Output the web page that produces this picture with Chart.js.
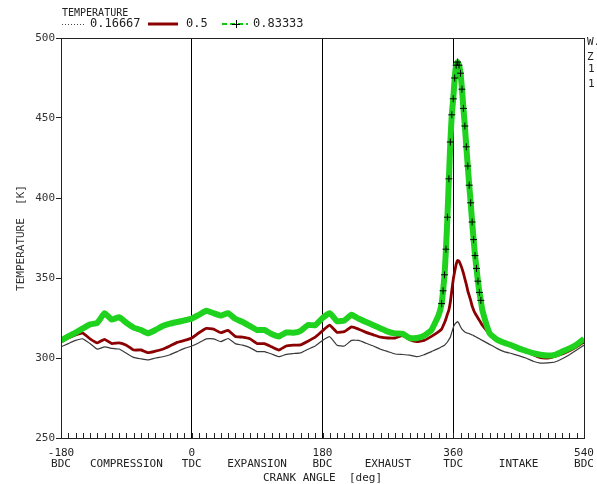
<!DOCTYPE html>
<html>
<head>
<meta charset="utf-8">
<script src="https://cdn.jsdelivr.net/npm/chart.js@4"></script>
<style>
  html, body { margin: 0; padding: 0; background: #fff; }
  #wrap { width: 597px; height: 484px; }
</style>
</head>
<body>
<div id="wrap"><canvas id="myChart" width="597" height="484"></canvas></div>
<script>
// crank angle [deg]
const angles = [
    -180, -170, -160, -150, -140, -130, -120, -110, -100, -90, -80, -70, -60, -50, -40, -30, -20, -10,
    0, 10, 20, 30, 40, 50, 60, 70, 80, 90, 100, 110, 120, 130, 140, 150, 160, 170,
    180, 190, 200, 210, 220, 230, 240, 250, 260, 270, 280, 290, 300, 310, 320, 330, 340,
    344, 346, 348, 350, 352, 354, 356, 358, 360, 362, 364, 366, 368, 370, 372, 374, 376, 378, 380,
    382, 384, 386, 388, 390, 392, 394, 396, 398, 400,
    410, 420, 430, 440, 450, 460, 470, 480, 490, 500, 510, 520, 530, 540
];

// temperature [K] for each series
const temp016 = [
    307, 309, 311, 312, 309, 305.5, 307, 306, 305.6, 303, 300.4, 299.5, 298.8, 300, 300.8, 302, 304, 306,
    307.5, 309.5, 312, 312, 310.2, 312.2, 309, 308, 306.5, 304, 304, 302.5, 300.8, 302.3, 302.8, 303.2, 305.5, 307.5,
    311, 313.3, 308, 307.5, 311, 311, 309.2, 307.5, 305.5, 304, 302.5, 302.2, 301.8, 300.8, 302, 304, 306,
    307, 307.5, 308, 309, 310, 311.5, 313, 316, 319, 321, 322, 322.7, 321.5, 319.5, 318, 317, 316.3, 315.8, 315.5,
    315.2, 314.8, 314.4, 314, 313.5, 313, 312.5, 312, 311.5, 311,
    308.5, 306, 304, 302.8, 301.5, 300, 298, 296.8, 297, 297.5, 299.5, 302, 305, 308
];
const temp05 = [
    310, 312.5, 314.5, 315.5, 312, 309.5, 311.7, 309, 309.5, 308, 305, 305, 303.3, 304.3, 305.5, 307.5, 309.8, 311,
    312.5, 315.8, 318.5, 318, 315.8, 317.3, 313.5, 313, 312, 309, 309, 307, 305, 307.5, 308, 308.2, 310.5, 313,
    317, 320.5, 316, 316.5, 319.5, 318, 316, 314.5, 313, 312.5, 312.5, 314, 311.5, 310.2, 311, 313.5, 316.5,
    318, 320, 322, 324.5, 327.5, 330, 335, 342, 349, 354, 358.5, 361, 360.5, 358.5, 356, 353, 349.5, 346, 342,
    339, 336, 332.5, 330, 328, 326.5, 325, 323.5, 322, 320.5,
    315, 311, 309.3, 307.5, 306, 304.5, 302, 300.2, 300, 301, 302.5, 304.5, 307, 310
];
const temp083 = [
    311, 313.5, 315.8, 318.5, 321, 322, 328, 324, 325.5, 322, 319, 317.5, 315.4, 317.5, 320, 321.5, 322.5, 323.5,
    324.6, 327, 329.5, 328, 326.5, 328, 324.5, 322.5, 320, 317.5, 317.5, 315, 313.5, 316, 315.8, 317, 320.6, 320.5,
    325, 328, 323, 323.5, 327, 324.5, 322.5, 320.5, 318.5, 316.5, 315.4, 315.2, 312.5, 312.5, 314, 317.5, 327,
    334, 342, 352, 368, 388, 412, 435, 452, 462, 475, 483, 485, 483, 478, 468, 456, 445, 432, 420,
    408, 397, 385, 374, 364, 356, 348, 341, 336, 330,
    315.5, 311.5, 309.5, 308, 306, 304.5, 303, 302, 301.5, 302, 304, 306, 308.5, 312
];

const seriesLabels = ['0.16667', '0.5', '0.83333'];

// x tick labels: crank position and stroke name
const xTickValues = [-180, -90, 0, 90, 180, 270, 360, 450, 540];
const xTickLabels = [
    ['-180', 'BDC'], ['', 'COMPRESSION'], ['0', 'TDC'], ['', 'EXPANSION'], ['180', 'BDC'],
    ['', 'EXHAUST'], ['360', 'TDC'], ['', 'INTAKE'], ['540', 'BDC']
];

const FONT = "'DejaVu Sans Mono', monospace";
const toPoints = arr => arr.map((y, i) => ({ x: angles[i], y: y }));

const decor = {
    id: 'decor',
    afterDraw(chart) {
        const c = chart.ctx;
        const a = chart.chartArea;
        const xs = chart.scales.x;
        c.save();
        // frame
        c.strokeStyle = '#222';
        c.lineWidth = 1;
        c.strokeRect(a.left + 0.5, a.top + 0.5, a.right - a.left, a.bottom - a.top);
        // minor ticks along the bottom axis
        c.beginPath();
        for (let d = -170; d < 540; d += 10) {
            const px = Math.round(xs.getPixelForValue(d)) + 0.5;
            c.moveTo(px, a.bottom);
            c.lineTo(px, a.bottom - 5);
        }
        c.stroke();

        // legend
        c.fillStyle = '#222';
        c.textBaseline = 'middle';
        c.font = '10px ' + FONT;
        c.fillText('TEMPERATURE', 62, 13);
        c.font = '12px ' + FONT;
        const ly = 24;
        c.strokeStyle = '#444';
        c.setLineDash([1, 2]);
        c.beginPath(); c.moveTo(62, ly + 0.5); c.lineTo(86, ly + 0.5); c.stroke();
        c.setLineDash([]);
        c.fillText(seriesLabels[0], 90, ly);
        c.strokeStyle = '#8b0000';
        c.lineWidth = 3;
        c.beginPath(); c.moveTo(148, ly); c.lineTo(178, ly); c.stroke();
        c.fillText(seriesLabels[1], 186, ly);
        c.strokeStyle = '#10c810';
        c.lineWidth = 2;
        c.setLineDash([5, 3]);
        c.beginPath(); c.moveTo(222, ly); c.lineTo(248, ly); c.stroke();
        c.setLineDash([]);
        c.strokeStyle = '#000';
        c.lineWidth = 1;
        c.beginPath();
        c.moveTo(232, ly + 0.5); c.lineTo(240, ly + 0.5);
        c.moveTo(236.5, ly - 4); c.lineTo(236.5, ly + 4);
        c.stroke();
        c.fillText(seriesLabels[2], 253, ly);

        // clipped side annotation
        c.font = '11px ' + FONT;
        c.fillText('W.', 587, 42);
        c.fillText('Z', 587, 57);
        c.fillText('1', 588, 69);
        c.fillText('1', 588, 84);
        c.restore();
    }
};

const ctx = document.getElementById('myChart');

const data = {
    datasets: [
        {
            label: seriesLabels[0],
            data: toPoints(temp016),
            borderColor: '#3a3a3a',
            borderWidth: 1.2,
            pointRadius: 0,
            order: 2
        },
        {
            label: seriesLabels[1],
            data: toPoints(temp05),
            borderColor: '#8b0000',
            borderWidth: 2.8,
            pointRadius: 0,
            order: 1
        },
        {
            label: seriesLabels[2],
            data: toPoints(temp083),
            borderColor: '#1ed21e',
            borderWidth: 6,
            pointStyle: 'cross',
            pointBorderColor: '#000',
            pointBorderWidth: 1,
            pointRadius: c => (c.raw && c.raw.x >= 344 && c.raw.x <= 398) ? 3.5 : 0,
            order: 0
        }
    ]
};

const config = {
    type: 'line',
    data: data,
    options: {
        responsive: false,
        animation: false,
        events: [],
        layout: { padding: { top: 38, right: 13, left: 0, bottom: 0 } },
        plugins: { legend: { display: false }, tooltip: { enabled: false } },
        elements: { line: { tension: 0.12 } },
        scales: {
            x: {
                type: 'linear',
                min: -180,
                max: 540,
                afterFit: s => { s.height = 46; s.paddingLeft = 0; s.paddingRight = 0; },
                afterBuildTicks: s => { s.ticks = xTickValues.map(v => ({ value: v })); },
                ticks: {
                    autoSkip: false,
                    maxRotation: 0,
                    padding: 10,
                    color: '#222',
                    font: { family: FONT, size: 11, lineHeight: 1.0 },
                    callback: v => xTickLabels[xTickValues.indexOf(v)]
                },
                grid: {
                    drawTicks: false,
                    color: c => (c.tick && c.tick.value % 180 === 0 && c.tick.value > -180 && c.tick.value < 540) ? '#000' : 'rgba(0,0,0,0)'
                },
                border: { display: true, color: '#222' },
                title: {
                    display: true,
                    text: 'CRANK ANGLE  [deg]',
                    color: '#222',
                    font: { family: FONT, size: 11, lineHeight: 1.0 },
                    padding: 0
                }
            },
            y: {
                min: 250,
                max: 500,
                afterFit: s => { s.width = 61; s.paddingTop = 0; s.paddingBottom = 0; },
                ticks: {
                    stepSize: 50,
                    padding: 1,
                    color: '#333',
                    font: { family: FONT, size: 11 }
                },
                grid: { drawOnChartArea: false, tickLength: 5, tickColor: '#222' },
                border: { display: true, color: '#222' },
                title: {
                    display: true,
                    text: 'TEMPERATURE  [K]',
                    color: '#333',
                    font: { family: FONT, size: 11, lineHeight: 1.0 },
                    padding: { top: 16, bottom: 0 }
                }
            }
        }
    },
    plugins: [decor]
};

const chart = new Chart(ctx, config);
</script>
</body>
</html>
